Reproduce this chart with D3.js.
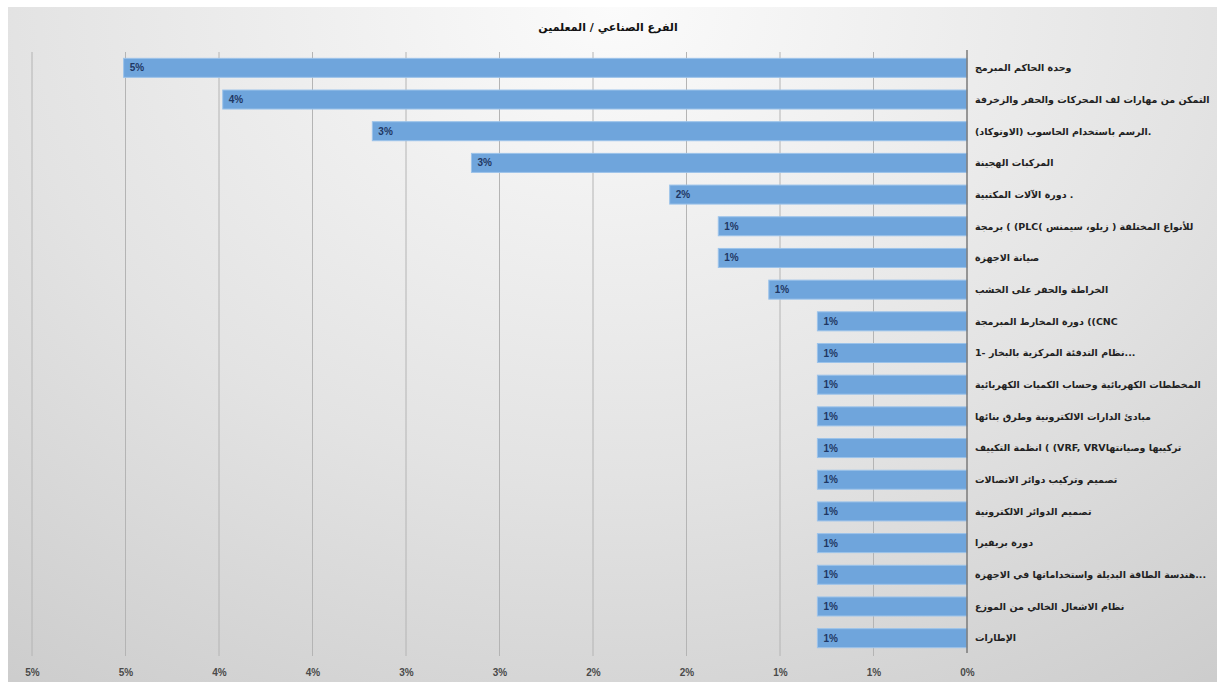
<!DOCTYPE html>
<html><head><meta charset="utf-8">
<script src="https://cdn.jsdelivr.net/npm/d3@7"></script>
<style>body{margin:0;background:#fff}svg{display:block}</style>
</head><body><svg id="c" width="1217" height="682"></svg>
<script>
const title = "الفرع الصناعي / المعلمين";
const categories = [
  "وحدة الحاكم المبرمج",
  "التمكن من مهارات لف المحركات والحفر والزخرفة",
  "الرسم باستخدام الحاسوب (الاوتوكاد).",
  "المركبات الهجينة",
  "دورة الآلات المكتبية .",
  "برمجة ( (PLCللأنواع المختلفة ( زيلو، سيمنس )",
  "صيانة الاجهزة",
  "الخراطة والحفر على الخشب",
  "دورة المخارط المبرمجة ((CNC",
  "1- نظام التدفئة المركزية بالبخار...",
  "المخططات الكهربائية وحساب الكميات الكهربائية",
  "مبادئ الدارات الالكترونية وطرق بنائها",
  "انظمة التكييف ( (VRF, VRVتركيبها وصيانتها",
  "تصميم وتركيب دوائر الاتصالات",
  "تصميم الدوائر الالكترونية",
  "دورة بريفيرا",
  "هندسة الطاقة البديلة واستخداماتها في الاجهزة...",
  "نظام الاشعال الخالي من الموزع",
  "الإطارات"
];
const values = [4.51, 3.98, 3.18, 2.65, 1.59, 1.33, 1.33, 1.06, 0.80, 0.80, 0.80, 0.80, 0.80, 0.80, 0.80, 0.80, 0.80, 0.80, 0.80];
const tickValues = [0, 0.5, 1, 1.5, 2, 2.5, 3, 3.5, 4, 4.5, 5];

const svg = d3.select("#c");
const W = 1217, H = 682;
const defs = svg.append("defs");
const g1 = defs.append("radialGradient").attr("id","bg").attr("cx","0.5").attr("cy","0").attr("r","0.9")
  .attr("gradientTransform","scale(1,1.4)");
g1.append("stop").attr("offset","0").attr("stop-color","#fbfbfb");
g1.append("stop").attr("offset","0.55").attr("stop-color","#e3e3e3");
g1.append("stop").attr("offset","1").attr("stop-color","#cbcbcb");

svg.append("rect").attr("x",8).attr("y",7).attr("width",W-8).attr("height",H-7).attr("fill","url(#bg)");

const x = d3.scaleLinear().domain([0,5]).range([967,32]);
const y = d3.scaleBand().domain(categories).range([52,654]).paddingInner(0.4).paddingOuter(0.2);

// gridlines
svg.append("g").selectAll("line").data(tickValues.slice(1)).join("line")
  .attr("x1",d=>x(d)).attr("x2",d=>x(d)).attr("y1",52).attr("y2",656)
  .attr("stroke","#b4b4b4").attr("stroke-width",1);

// bottom axis labels
const xa = d3.axisBottom(x).tickValues(tickValues).tickSize(0).tickFormat(d=>Math.round(d)+"%");
const ga = svg.append("g").attr("transform","translate(0,666)").call(xa);
ga.select(".domain").remove();
ga.selectAll("text").attr("font-family","Liberation Sans, Arial, sans-serif").attr("font-size",10)
  .attr("font-weight","bold").attr("fill","#4a4a4a");

// bars
svg.append("g").selectAll("rect").data(values).join("rect")
  .attr("x",d=>x(d)).attr("y",(d,i)=>y(categories[i]))
  .attr("width",d=>x(0)-x(d)).attr("height",y.bandwidth())
  .attr("fill","#6fa5dc").attr("stroke","#9cc3ea").attr("stroke-width",1);

// value labels
svg.append("g").selectAll("text").data(values).join("text")
  .attr("x",d=>x(d)+6).attr("y",(d,i)=>y(categories[i])+y.bandwidth()/2)
  .attr("dy","0.35em").attr("font-family","Liberation Sans, Arial, sans-serif")
  .attr("font-size",10).attr("font-weight","bold").attr("fill","#1f3763")
  .text(d=>Math.round(d)+"%");

// vertical axis line
svg.append("line").attr("x1",x(0)).attr("x2",x(0)).attr("y1",50).attr("y2",653)
  .attr("stroke","#7a7a7a").attr("stroke-width",1.5);

// category labels (LTR paragraph direction, as in the source chart)
const maxW = 238;
svg.append("g").selectAll("text").data(categories).join("text")
  .attr("x",975).attr("y",d=>y(d)+y.bandwidth()/2).attr("dy","0.35em")
  .attr("font-family","DejaVu Sans, Noto Sans, sans-serif").attr("font-size",9.5)
  .attr("fill","#222").attr("font-weight","bold")
  .text(d=>"\u200E"+d)
  .each(function(){ const w=this.getComputedTextLength(); if(w>maxW){ d3.select(this).attr("textLength",maxW).attr("lengthAdjust","spacingAndGlyphs"); } });

// title
svg.append("text").attr("x",608).attr("y",31).attr("text-anchor","middle")
  .attr("font-family","DejaVu Sans, sans-serif").attr("font-size",11).attr("font-weight","bold")
  .attr("fill","#111").text(title);
</script></body></html>
